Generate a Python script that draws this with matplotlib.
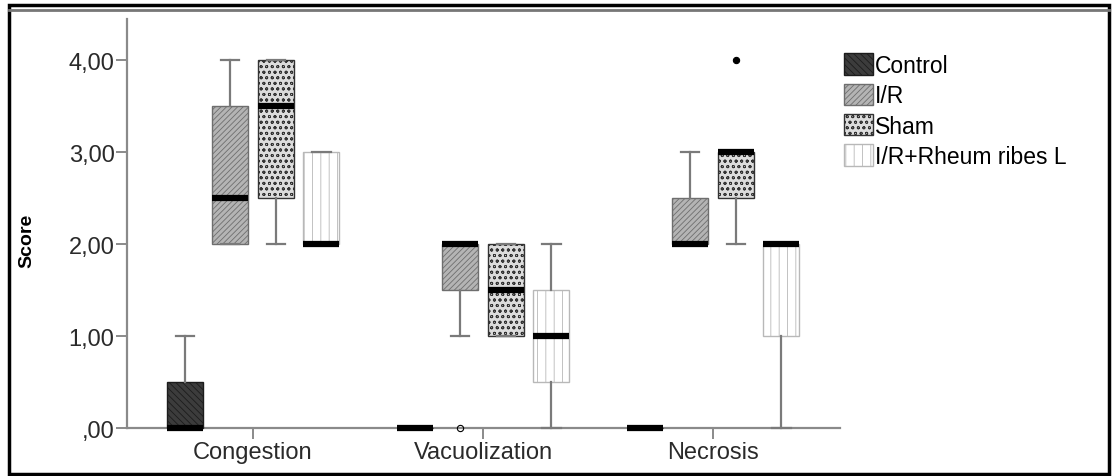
import matplotlib.pyplot as plt
from matplotlib.patches import Patch, Rectangle
from matplotlib.lines import Line2D

# categories and groups
categories = ["Congestion", "Vacuolization", "Necrosis"]
groups = ["Control", "I/R", "Sham", "I/R+Rheum ribes L"]

# box statistics per group (one value per category)
control_lo = [0, 0, 0]
control_q1 = [0, 0, 0]
control_med = [0, 0, 0]
control_q3 = [0.5, 0, 0]
control_hi = [1, 0, 0]
control_out = [[], [], []]

ir_lo = [2, 1, 2]
ir_q1 = [2, 1.5, 2]
ir_med = [2.5, 2, 2]
ir_q3 = [3.5, 2, 2.5]
ir_hi = [4, 2, 3]
ir_out = [[], [0], []]

sham_lo = [2, 1, 2]
sham_q1 = [2.5, 1, 2.5]
sham_med = [3.5, 1.5, 3]
sham_q3 = [4, 2, 3]
sham_hi = [4, 2, 3]
sham_out = [[], [], [4]]

rheum_lo = [2, 0, 0]
rheum_q1 = [2, 0.5, 1]
rheum_med = [2, 1, 2]
rheum_q3 = [3, 1.5, 2]
rheum_hi = [3, 2, 2]
rheum_out = [[], [], []]

yticks = [0, 1, 2, 3, 4]
ytick_labels = [",00", "1,00", "2,00", "3,00", "4,00"]

series = [
    (control_lo, control_q1, control_med, control_q3, control_hi, control_out),
    (ir_lo, ir_q1, ir_med, ir_q3, ir_hi, ir_out),
    (sham_lo, sham_q1, sham_med, sham_q3, sham_hi, sham_out),
    (rheum_lo, rheum_q1, rheum_med, rheum_q3, rheum_hi, rheum_out),
]

# looks: face, hatch, hatch/edge colour
styles = [
    ("#3c3c3c", "\\\\\\\\\\", "#1c1c1c"),
    ("#b4b4b4", "//////", "#6e6e6e"),
    ("#dcdcdc", "ooo", "#333333"),
    ("#ffffff", "||", "#b8b8b8"),
]
flier_markers = [("o", "none"), ("o", "none"), ("o", "black"), ("o", "none")]

plt.rcParams['hatch.linewidth'] = 0.6
plt.rcParams['font.family'] = ['Liberation Sans', 'DejaVu Sans']

fig = plt.figure(figsize=(11.18, 4.77), dpi=100)
ax = fig.add_axes([0.1136, 0.1006, 0.7513 - 0.1136, 0.958 - 0.1006])

offsets = [-0.297, -0.099, 0.099, 0.297]
width = 0.157

for g, (lo, q1, med, q3, hi, out) in enumerate(series):
    stats = []
    for c in range(len(categories)):
        stats.append(dict(whislo=lo[c], q1=q1[c], med=med[c], q3=q3[c],
                          whishi=hi[c], fliers=out[c]))
    pos = [c + 1 + offsets[g] for c in range(len(categories))]
    face, hatch, hcol = styles[g]
    mk, mfc = flier_markers[g]
    art = ax.bxp(stats, positions=pos, widths=width, patch_artist=True,
                 showfliers=True, capwidths=0.08,
                 boxprops=dict(facecolor=face, edgecolor=hcol, hatch=hatch, linewidth=1.0),
                 medianprops=dict(color="black", linewidth=4.5, solid_capstyle="butt"),
                 whiskerprops=dict(color="#7a7a7a", linewidth=1.6),
                 capprops=dict(color="#7a7a7a", linewidth=1.6),
                 flierprops=dict(marker=mk, markerfacecolor=mfc, markeredgecolor="black",
                                 markersize=4.5, markeredgewidth=0.8))
    for key in art:
        for a in art[key]:
            a.set_clip_on(False)
    for b in art["boxes"]:
        b.set_zorder(2)
    for m in art["medians"]:
        m.set_zorder(4)

ax.set_xlim(0.452, 3.552)
ax.set_ylim(0, 4.446)
ax.set_xticks([1, 2, 3])
ax.set_xticklabels(categories, fontsize=17, color="#2a2a2a")
ax.set_yticks(yticks)
ax.set_yticklabels(ytick_labels, fontsize=17, color="#2a2a2a")
ax.set_ylabel("Score", fontsize=14, fontweight="bold")
ax.yaxis.set_label_coords(-0.128, 0.46)

for s in ["top", "right"]:
    ax.spines[s].set_visible(False)
for s in ["left", "bottom"]:
    ax.spines[s].set_color("#8a8a8a")
    ax.spines[s].set_linewidth(1.6)
    ax.spines[s].set_zorder(1)
ax.tick_params(axis="both", length=8, width=1.4, color="#8a8a8a", pad=1)

handles = [Patch(facecolor=f, edgecolor=h, hatch=ht, linewidth=1.0) for f, ht, h in styles]
leg = fig.legend(handles, groups, loc="upper left", bbox_to_anchor=(0.747, 0.905),
                 frameon=False, fontsize=16.5, handlelength=1.25, handleheight=1.05,
                 handletextpad=0.1, labelspacing=0.3, borderaxespad=0)

# outer frame
fig.add_artist(Rectangle((0.008, 0.005), 0.984, 0.982, transform=fig.transFigure,
                         fill=False, edgecolor="black", linewidth=2.5))
fig.add_artist(Line2D([0.008, 0.992], [0.977, 0.977], transform=fig.transFigure,
                      color="#777777", linewidth=2))

fig.savefig("out.png", dpi=100)
